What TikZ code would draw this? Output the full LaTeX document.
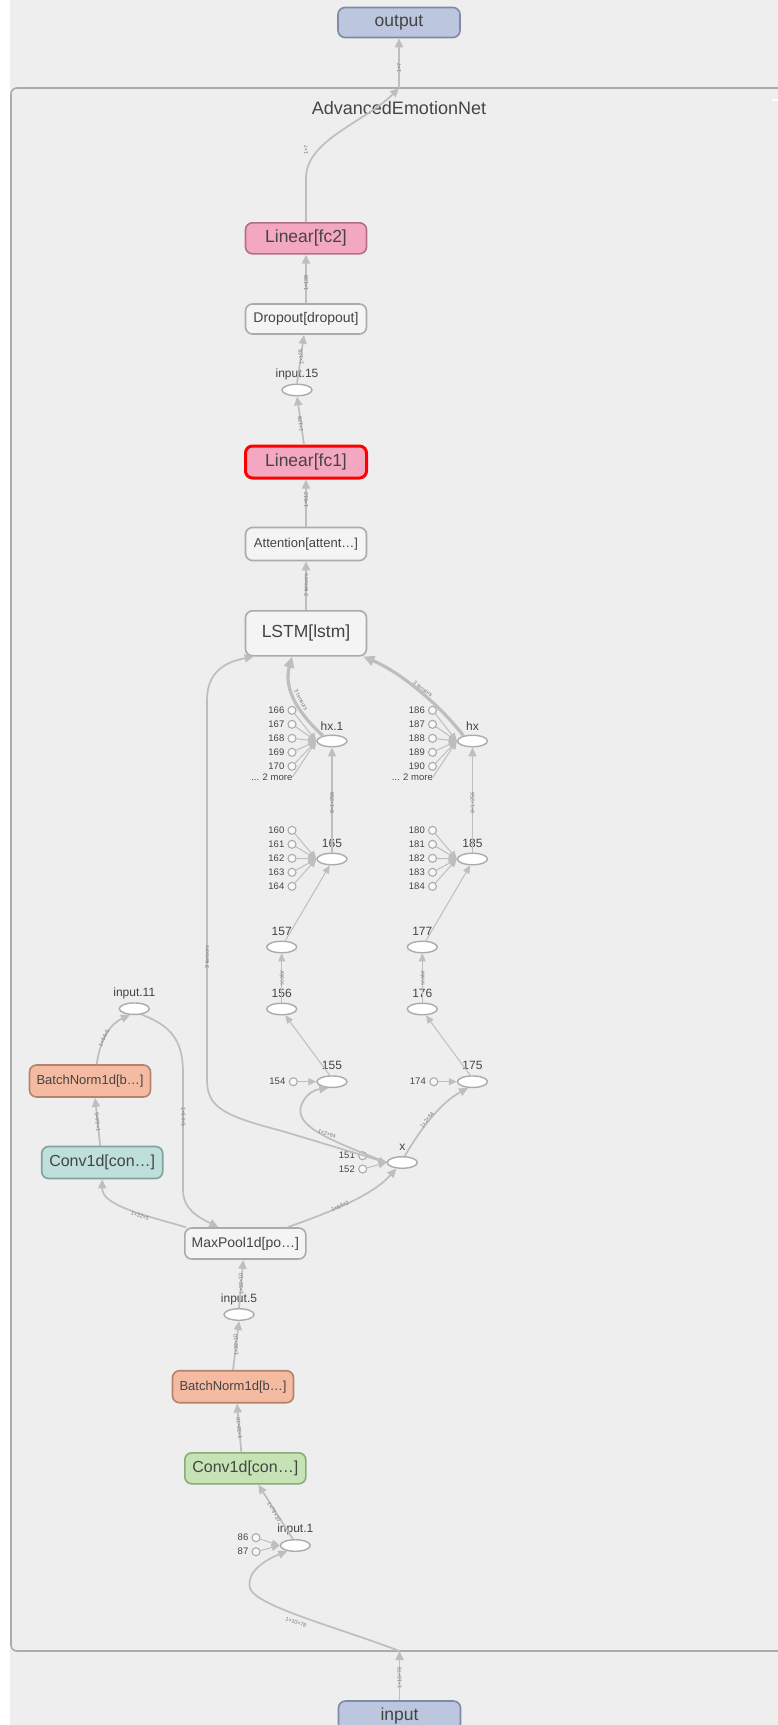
\documentclass[tikz,border=0pt]{standalone}
\usepackage{fontspec}
\setmainfont{Liberation Sans}
\usetikzlibrary{arrows.meta,shapes.geometric}
\definecolor{bgc}{HTML}{EEEEEE}
\definecolor{clusc}{HTML}{ABABAB}
\definecolor{edgec}{HTML}{BEBEBE}
\definecolor{txtc}{HTML}{444444}
\definecolor{elabc}{HTML}{7A7A7A}
\definecolor{iofill}{HTML}{BCC6DE}
\definecolor{iodraw}{HTML}{7F8AA6}
\definecolor{linfill}{HTML}{F4A7C0}
\definecolor{lindraw}{HTML}{B36F86}
\definecolor{bnfill}{HTML}{F4BBA2}
\definecolor{bndraw}{HTML}{B5826C}
\definecolor{cvafill}{HTML}{BEDFDC}
\definecolor{cvadraw}{HTML}{80A29F}
\definecolor{cvbfill}{HTML}{C6E3B5}
\definecolor{cvbdraw}{HTML}{8BAB78}
\definecolor{plainfill}{HTML}{F4F4F4}
\definecolor{nodedraw}{HTML}{ABABAB}
\begin{document}
\begin{tikzpicture}[x=1pt,y=-1pt,
  box/.style={rectangle,rounded corners=7pt,line width=1.6pt,draw=nodedraw,fill=plainfill,
    minimum width=121pt,minimum height=31pt,inner sep=0pt,text=txtc},
  big/.style={font=\fontsize{17.5}{20}\selectfont},
  mid/.style={font=\fontsize{14}{16}\selectfont},
  small/.style={font=\fontsize{13}{15}\selectfont},
  iobox/.style={box,fill=iofill,draw=iodraw,big},
  linbox/.style={box,fill=linfill,draw=lindraw,big},
  bnbox/.style={box,fill=bnfill,draw=bndraw,small},
  opnode/.style={ellipse,draw=nodedraw,fill=white,line width=1.4pt,minimum width=30pt,minimum height=11.5pt,inner sep=0pt},
  cnode/.style={circle,draw=nodedraw,fill=white!60!bgc,line width=1.1pt,minimum size=8pt,inner sep=0pt},
  olab/.style={font=\fontsize{12}{14}\selectfont,text=txtc,inner sep=0pt},
  clab/.style={font=\fontsize{9.5}{11}\selectfont,text=txtc,inner sep=0pt,anchor=east},
  elab/.style={font=\fontsize{5.5}{6}\selectfont,text=elabc,inner sep=0pt},
  conn/.style={draw=edgec,line width=1.7pt,-{Triangle[length=9pt,width=8pt]}},
  conthin/.style={draw=edgec,line width=1pt,-{Triangle[length=8pt,width=7pt]}},
  conthick/.style={draw=edgec,line width=3.2pt,-{Triangle[length=11pt,width=10pt]}}
]
\useasboundingbox (0,0) rectangle (778,1725);
\clip (0,0) rectangle (778,1725);
\fill[bgc] (0,0) rectangle (778,1725);
\fill[white] (0,0) rectangle (10,1725);
\draw[clusc,line width=1.6pt,fill=bgc,rounded corners=6pt] (11,88) rectangle (830,1651);
\fill[white] (772,99) rectangle (778,101);
\node[text=txtc,font=\fontsize{18}{20}\selectfont] (title) at (399,108) {AdvancedEmotionNet};

% boxes
\node[iobox,minimum width=122pt,minimum height=30pt] (out) at (399,22.5) {output};
\node[iobox,minimum width=122pt,minimum height=30pt] (inp) at (399.5,1716) {input};
\node[linbox] (fc2) at (306,238.3) {Linear[fc2]};
\node[box,mid,minimum height=30pt] (drop) at (306,319) {Dropout[dropout]};
\node[linbox,draw=red,line width=3pt,minimum height=32pt] (fc1) at (306,462) {Linear[fc1]};
\node[box,small,minimum height=33pt] (att) at (306,544) {Attention[attent…]};
\node[box,big,minimum height=45pt] (lstm) at (306,633.3) {LSTM[lstm]};
\node[box,mid] (mp) at (245.3,1243.5) {MaxPool1d[po…]};
\node[bnbox,minimum height=32pt] (bn2) at (233,1386.7) {BatchNorm1d[b…]};
\node[box,fill=cvbfill,draw=cvbdraw,font=\fontsize{16}{18}\selectfont] (cv2) at (245.3,1468.3) {Conv1d[con…]};
\node[bnbox,minimum height=32pt] (bn1) at (90,1081) {BatchNorm1d[b…]};
\node[box,fill=cvafill,draw=cvadraw,font=\fontsize{16}{18}\selectfont,minimum height=32pt] (cv1) at (102.2,1162.5) {Conv1d[con…]};

% op ellipses
\node[opnode] (i15) at (297,390) {};
\node[olab] (li15) at (297,374) {input.15};
\node[opnode] (hx1) at (332,741) {};
\node[olab] (lhx1) at (332,726) {hx.1};
\node[opnode] (hx) at (472.5,741) {};
\node[olab] (lhx) at (472.5,726) {hx};
\node[opnode] (n165) at (332,859) {};
\node[olab] (l165) at (332,843) {165};
\node[opnode] (n185) at (472.5,859) {};
\node[olab] (l185) at (472.5,843) {185};
\node[opnode] (n157) at (281.7,947) {};
\node[olab] (l157) at (281.7,931) {157};
\node[opnode] (n177) at (422.3,947) {};
\node[olab] (l177) at (422.3,931) {177};
\node[opnode] (n156) at (281.7,1009) {};
\node[olab] (l156) at (281.7,993) {156};
\node[opnode] (n176) at (422.3,1009) {};
\node[olab] (l176) at (422.3,993) {176};
\node[opnode] (n155) at (332,1081.7) {};
\node[olab] (l155) at (332,1065.5) {155};
\node[opnode] (n175) at (472.5,1081.7) {};
\node[olab] (l175) at (472.5,1065.5) {175};
\node[opnode] (nx) at (402.3,1162.5) {};
\node[olab] (lx) at (402.3,1147) {x};
\node[opnode] (i11) at (134.3,1008.7) {};
\node[olab] (li11) at (134.3,993) {input.11};
\node[opnode] (i5) at (239,1314.5) {};
\node[olab] (li5) at (239,1299) {input.5};
\node[opnode] (i1) at (295.3,1545.5) {};
\node[olab] (li1) at (295.3,1529) {input.1};

% small constant circles
\foreach \n/\yy in {166/710.3,167/724.3,168/738.3,169/752.3,170/766.3}{
  \node[cnode] (c\n) at (292,\yy) {};
  \node[clab] (t\n) at (284.5,\yy) {\n};
  \draw[conthin] (c\n) -- (hx1.west);
}
\node[clab] (tmoreA) at (292.5,777) {... 2 more};
\draw[conthin] (tmoreA.east) -- (hx1.west);
\foreach \n/\yy in {186/710.3,187/724.3,188/738.3,189/752.3,190/766.3}{
  \node[cnode] (c\n) at (432.5,\yy) {};
  \node[clab] (t\n) at (425,\yy) {\n};
  \draw[conthin] (c\n) -- (hx.west);
}
\node[clab] (tmoreB) at (433,777) {... 2 more};
\draw[conthin] (tmoreB.east) -- (hx.west);
\foreach \n/\yy in {160/830.3,161/844.3,162/858.3,163/872.3,164/886.3}{
  \node[cnode] (c\n) at (292,\yy) {};
  \node[clab] (t\n) at (284.5,\yy) {\n};
  \draw[conthin] (c\n) -- (n165.west);
}
\foreach \n/\yy in {180/830.3,181/844.3,182/858.3,183/872.3,184/886.3}{
  \node[cnode] (c\n) at (432.5,\yy) {};
  \node[clab] (t\n) at (425,\yy) {\n};
  \draw[conthin] (c\n) -- (n185.west);
}
\node[cnode] (c154) at (293.3,1081.7) {};
\node[clab] (t154) at (285.5,1081.7) {154};
\draw[conthin] (c154) -- (n155.west);
\node[cnode] (c174) at (433.8,1081.7) {};
\node[clab] (t174) at (426,1081.7) {174};
\draw[conthin] (c174) -- (n175.west);
\node[cnode] (c151) at (362.7,1155.7) {};
\node[clab] (t151) at (355,1155.7) {151};
\node[cnode] (c152) at (362.7,1169) {};
\node[clab] (t152) at (355,1169) {152};
\draw[conthin] (c151) -- (nx.west);
\draw[conthin] (c152) -- (nx.west);
\node[cnode] (c86) at (256,1537.7) {};
\node[clab] (t86) at (248.5,1537.7) {86};
\node[cnode] (c87) at (256,1551.7) {};
\node[clab] (t87) at (248.5,1551.7) {87};
\draw[conthin] (c86) -- (i1.west);
\draw[conthin] (c87) -- (i1.west);

% main edges
\coordinate (ctop) at (399,88);
\coordinate (cbot) at (399.5,1651);
\draw[conn] (ctop) -- (out.south);
\node[elab,rotate=90] (e1) at (399,68) {1×7};
\draw[conn] (fc2.north) -- (306,178) .. controls (306,140) and (365,122) .. (ctop);
\node[elab,rotate=90] (e2) at (306,150) {1×7};
\draw[conn] (drop.north) -- (fc2.south);
\node[elab,rotate=90] (e3) at (306,283) {1×128};
\draw[conn] (i15.north) -- ([xshift=-2pt]drop.south);
\node[elab,rotate=95] (e4) at (301,357) {1×128};
\draw[conn] ([xshift=-2pt]fc1.north) -- (i15.south);
\node[elab,rotate=95] (e5) at (300.5,424) {1×128};
\draw[conn] (att.north) -- (fc1.south);
\node[elab,rotate=90] (e6) at (306,500) {1×512};
\draw[conn] (lstm.north) -- (att.south);
\node[elab,rotate=90] (e7) at (306,585) {2 tensors};
\draw[conthick] (hx1.150) .. controls (300,715) and (283,690) .. ([xshift=-14pt]lstm.south);
\node[elab,rotate=-62] (e8) at (301,700) {3 tensors};
\draw[conthick] (hx.150) .. controls (440,705) and (400,672) .. ([xshift=-4pt]lstm.south east);
\node[elab,rotate=-38] (e9) at (423,689) {3 tensors};
\draw[conn] (n165.north) -- (hx1.south);
\node[elab,rotate=90] (e10) at (332,803) {8×1×256};
\draw[conn] (n185.north) -- (hx.south);
\node[elab,rotate=90] (e11) at (472.5,803) {8×1×256};
\draw[conthin] (n157.60) -- (n165.250);
\draw[conthin] (n177.60) -- (n185.250);
\draw[conthin] (n156.north) -- (n157.south);
\node[elab,rotate=90] (e12) at (281.7,978) {scalar};
\draw[conthin] (n176.north) -- (n177.south);
\node[elab,rotate=90] (e13) at (422.3,978) {scalar};
\draw[conthin] (n155.110) -- (n156.-60);
\draw[conthin] (n175.110) -- (n176.-60);
% x edges
\draw[conn] (nx.west) -- (282,1131) .. controls (225,1116) and (207,1108) .. (207,1080) -- (207,700) .. controls (207,672) and (225,662) .. ([xshift=9pt]lstm.south west);
\node[elab,rotate=90] (e14) at (207,957) {3 tensors};
\draw[conn] (nx.west) .. controls (330,1140) and (295,1127) .. (301,1106) .. controls (305,1095) and (313,1090) .. (n155.240);
\node[elab,rotate=-20] (e15) at (327,1134) {1×2×64};
\draw[conn] (nx.70) .. controls (420,1130) and (440,1103) .. (n175.235);
\node[elab,rotate=52] (e16) at (427,1120) {1×2×64};
\draw[conn] ([xshift=-19pt]mp.north east) .. controls (330,1212) and (372,1196) .. (nx.225);
\node[elab,rotate=25] (e17) at (340,1206) {1×64×2};
% left branch
\draw[conn] ([xshift=2pt]mp.north west) .. controls (140,1214) and (102,1205) .. (cv1.south);
\node[elab,rotate=-20] (e18) at (140,1216) {1×32×5};
\draw[conn] ([xshift=-2pt]cv1.north) -- ([xshift=5pt]bn1.south);
\node[elab,rotate=95] (e19) at (97.5,1122) {1×64×5};
\draw[conn] ([xshift=6.7pt]bn1.north) .. controls (100,1040) and (110,1024) .. (i11.235);
\node[elab,rotate=65] (e20) at (104,1038) {1×64×5};
\draw[conn] (i11.320) .. controls (170,1025) and (183,1040) .. (183,1072) -- (183,1190) .. controls (183,1210) and (200,1218) .. ([xshift=-27pt]mp.north);
\node[elab,rotate=-90] (e21) at (183.5,1117) {1×64×5};
% lower chain
\draw[conn] (i5.north) -- ([xshift=-2pt]mp.south);
\node[elab,rotate=92] (e22) at (241,1284) {1×32×10};
\draw[conn] (bn2.north) -- (i5.south);
\node[elab,rotate=93] (e23) at (236,1345) {1×32×10};
\draw[conn] ([xshift=-4pt]cv2.north) -- ([xshift=4pt]bn2.south);
\node[elab,rotate=95] (e24) at (239,1428) {1×32×10};
\draw[conn] (i1.110) -- ([xshift=13pt]cv2.south);
\node[elab,rotate=-60] (e25) at (274,1512) {1×78×10};
\draw[conn] (inp.north) -- (cbot);
\node[elab,rotate=90] (e26) at (399.5,1678) {1×10×78};
\draw[conn] (cbot) .. controls (340,1628) and (255,1606) .. (250,1588) .. controls (246,1572) and (265,1560) .. (i1.215);
\node[elab,rotate=-20] (e27) at (296,1622) {1×10×78};
\end{tikzpicture}
\end{document}
